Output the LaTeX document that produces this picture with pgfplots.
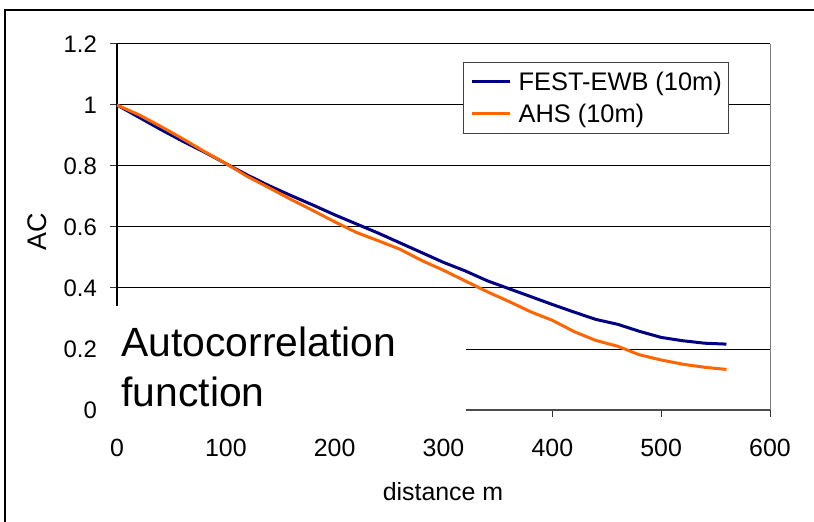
\documentclass[border=0pt]{standalone}
\usepackage{pgfplots}
\pgfplotsset{compat=1.18}
\usepackage{fontspec}
\setmainfont{Liberation Sans}
\definecolor{navyline}{RGB}{0,0,128}
\definecolor{orangeline}{RGB}{255,102,0}
\pgfplotstableread{
x y
0 1.000
20 0.960
40 0.920
60 0.882
80 0.846
100 0.808
120 0.770
140 0.735
160 0.703
180 0.672
200 0.640
220 0.610
240 0.580
260 0.548
280 0.516
300 0.484
320 0.456
340 0.424
360 0.398
380 0.372
400 0.346
420 0.321
440 0.297
460 0.281
480 0.258
500 0.238
520 0.227
540 0.219
560 0.216
}\festdata
\pgfplotstableread{
x y
0 1.000
20 0.968
40 0.930
60 0.890
80 0.848
100 0.808
120 0.765
140 0.728
160 0.690
180 0.654
200 0.617
220 0.582
240 0.555
260 0.527
280 0.490
300 0.458
320 0.423
340 0.388
360 0.356
380 0.322
400 0.294
420 0.257
440 0.228
460 0.209
480 0.181
500 0.164
520 0.150
540 0.140
560 0.133
}\ahsdata
\begin{document}
\begin{tikzpicture}
\useasboundingbox (-117bp,-112bp) rectangle (697bp,410bp);
\fill[white] (-117bp,-112bp) rectangle (697bp,410bp);
\draw[line width=2bp] (-112bp,-113bp) -- (-112bp,400bp) -- (698bp,400bp);
\begin{axis}[
  at={(0,0)}, anchor=south west,
  scale only axis, width=653bp, height=366bp,
  xmin=0, xmax=600, ymin=0, ymax=1.2,
  xtick={0,100,200,300,400,500,600},
  ytick={0,0.2,0.4,0.6,0.8,1,1.2},
  axis x line*=bottom, axis y line*=left,
  x axis line style={black!70, line width=1.3bp, -},
  y axis line style={black, line width=1.3bp, -},
  tick align=outside, major tick length=7bp,
  tick style={black!80, line width=1bp},
  ymajorgrids, grid style={black, line width=1bp},
  clip=false,
  /pgf/number format/assume math mode=true,
  xticklabel style={font=\fontsize{25}{30}\selectfont, anchor=north, inner sep=0pt, yshift=-22bp},
  yticklabel style={font=\fontsize{24}{28}\selectfont, anchor=east, inner sep=0pt, xshift=-13bp},
  xlabel={distance m},
  xlabel style={at={(axis description cs:0.4992,-0.2459)}, anchor=base, font=\fontsize{25}{30}\selectfont, inner sep=0pt},
  ylabel={AC},
  ylabel style={at={(axis description cs:-0.1217,0.486)}, anchor=center, font=\fontsize{27}{32}\selectfont, inner sep=0pt},
  legend style={at={(0.530,0.951)}, anchor=north west, draw=black!75, line width=1bp, fill=white,
    font=\fontsize{25.5}{30}\selectfont, inner xsep=7bp, inner ysep=9.5bp, row sep=12bp, column sep=7bp,
    nodes={inner sep=0pt}},
  legend cell align=left,
  legend image code/.code={\draw[#1, line width=3bp] (0bp,0bp) -- (38bp,0bp);},
]
\addplot[navyline, line width=3bp] table {\festdata};
\addlegendentry{FEST-EWB (10m)}
\addplot[orangeline, line width=3bp] table {\ahsdata};
\addlegendentry{AHS (10m)}
\draw[black!50, line width=1bp] (rel axis cs:1,0) -- (rel axis cs:1,1);
\fill[white] (axis cs:-7.4,-0.032) rectangle (axis cs:320.7,0.3426);
\node[anchor=base west, font=\fontsize{41}{49}\selectfont, inner sep=0pt] at (axis cs:4,0.1738) {Autocorrelation};
\node[anchor=base west, font=\fontsize{41}{49}\selectfont, inner sep=0pt] at (axis cs:4,0.0131) {function};
\end{axis}
\end{tikzpicture}
\end{document}
